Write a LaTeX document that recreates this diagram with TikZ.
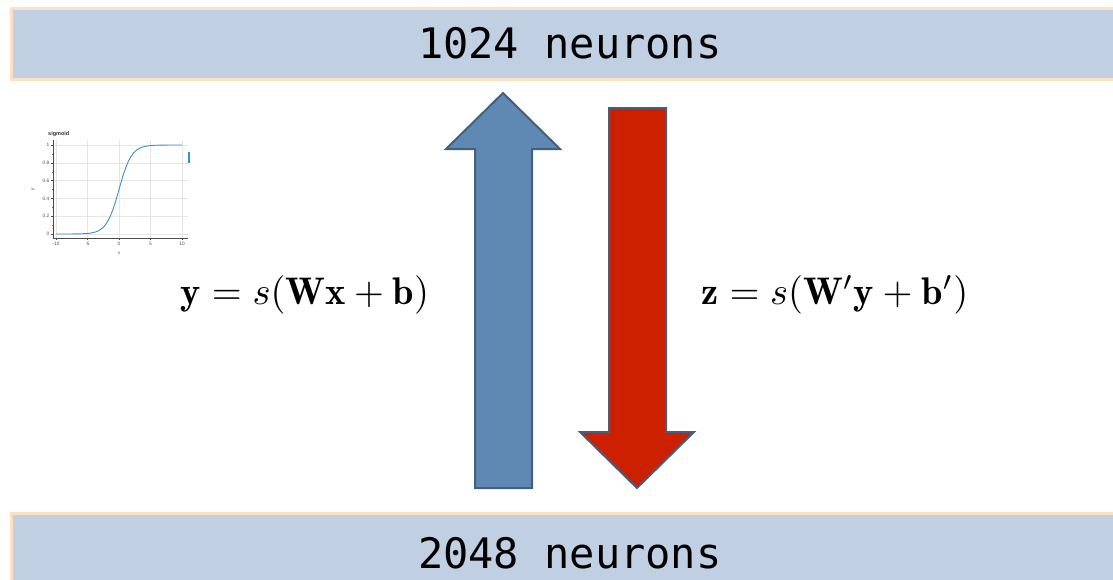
\documentclass[tikz,border=0pt]{standalone}
\usepackage{fontspec}
\newfontfamily\monofont{DejaVu Sans Mono}
\newfontfamily\plotfont{Liberation Sans}
\definecolor{boxblue}{HTML}{C0CFE2}
\definecolor{boxorange}{HTML}{FDE0C0}
\definecolor{arrowblue}{HTML}{5F88B2}
\definecolor{arrowred}{HTML}{CC2000}
\definecolor{arrowedge}{HTML}{44607F}
\definecolor{curveblue}{HTML}{3A8FD0}
\definecolor{gridgray}{HTML}{E6E6E6}
\tikzset{
  layer/.style={draw=boxorange, line width=3pt, fill=boxblue, inner sep=0pt,
    font=\monofont\fontsize{42}{42}\selectfont, text=black},
  bigarrow/.style={draw=arrowedge, line width=2pt, line join=miter},
  eq/.style={font=\fontsize{10}{12}\selectfont, inner sep=0pt, scale=3.85},
  ticklabel/.style={font=\plotfont\fontsize{4.8}{4.8}\selectfont, text=black!70, inner sep=0.5pt},
}
\begin{document}
\begin{tikzpicture}[x=1pt,y=-1pt]
\useasboundingbox (0,0) rectangle (1113,579);
\clip (0,0) rectangle (1113,579);
% layers
\node[layer, minimum width=1117.5pt, minimum height=71pt, anchor=north west] (top) at (9.5,6.5) {1024 neurons};
\node[layer, minimum width=1117.5pt, minimum height=81pt, anchor=north west] (bottom) at (9.5,511.5) {2048 neurons};
% arrows
\fill[arrowblue] (475,488) -- (475,149) -- (446,149) -- (503,93) -- (560,149) -- (532,149) -- (532,488) -- cycle;
\draw[bigarrow] (475,488) -- (475,149) -- (446,149) -- (503,93) -- (560,149) -- (532,149) -- (532,488) -- cycle;
\fill[arrowred] (609,108) -- (609,432) -- (580,432) -- (637,488) -- (694,432) -- (666,432) -- (666,108) -- cycle;
\draw[bigarrow] (609,108) -- (609,432) -- (580,432) -- (637,488) -- (694,432) -- (666,432) -- (666,108) -- cycle;
% equations
\node[eq] (eqy) at (305,295) {$\mathbf{y} = s(\mathbf{W}\mathbf{x} + \mathbf{b})$};
\node[eq] (eqz) at (835,295) {$\mathbf{z} = s(\mathbf{W}'\mathbf{y} + \mathbf{b}')$};
% sigmoid plot
\foreach \xv in {-10,-5,0,5,10} \draw[gridgray, line width=0.4pt] ({119+6.3*\xv},140) -- ({119+6.3*\xv},238);
\foreach \yv in {0,0.2,0.4,0.6,0.8,1} \draw[gridgray, line width=0.4pt] (53,{234-89*\yv}) -- (188,{234-89*\yv});
\draw[black!70, line width=0.4pt] (53,140) -- (53,238) -- (188,238);
\foreach \yv/\lab in {0/0,0.2/0.2,0.4/0.4,0.6/0.6,0.8/0.8,1/1} {
  \draw[black!70, line width=0.4pt] (51,{234-89*\yv}) -- (53,{234-89*\yv});
  \node[ticklabel, anchor=east] (yl\lab) at (50,{234-89*\yv}) {\lab};
}
\foreach \yv in {0.1,0.3,0.5,0.7,0.9} \draw[black!60, line width=0.3pt] (52,{234-89*\yv}) -- (53,{234-89*\yv});
\foreach \xv/\lab in {-10/-10,-5/-5,0/0,5/5,10/10} {
  \draw[black!70, line width=0.4pt] ({119+6.3*\xv},238) -- ({119+6.3*\xv},240);
  \node[ticklabel, anchor=north] (xl\xv) at ({119+6.3*\xv},241) {\lab};
}
\node[ticklabel] (xlabel) at (119,253) {\itshape x};
\node[ticklabel, rotate=90] (ylabel) at (33,189) {\itshape y};
\node[font=\plotfont\bfseries\fontsize{5.5}{5.5}\selectfont, text=black!80, anchor=west, inner sep=0pt] (ptitle) at (48,134.5) {sigmoid};
\draw[curveblue, line width=0.9pt] (56,234) -- ({119+6.3*(-8)},{234-89*0.000335})
  -- plot[domain=-8:8, samples=81, smooth] ({119+6.3*\x},{234-89/(1+exp(-\x))})
  -- (182,145);
\fill[curveblue] (187.5,152) rectangle (189.5,163);
\end{tikzpicture}
\end{document}
